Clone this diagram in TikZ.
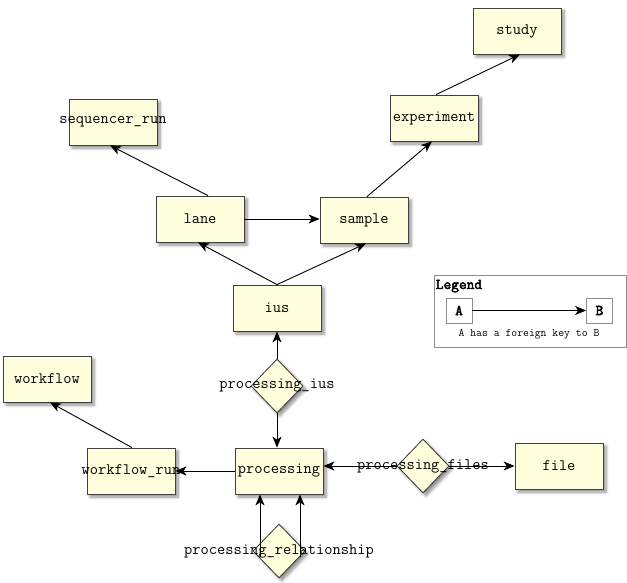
\documentclass[tikz,border=0pt]{standalone}
\usepackage{fontspec}
\setmonofont{Latin Modern Mono}[AutoFakeBold=3]
\usetikzlibrary{arrows.meta,shapes.geometric,shadows.blur}
\definecolor{boxfill}{RGB}{255,255,221}
\begin{document}
\begin{tikzpicture}[x=1pt,y=-1pt,
  font=\ttfamily\fontsize{16}{18}\selectfont,
  shad/.style={blur shadow={shadow xshift=3pt,shadow yshift=-3pt,shadow blur radius=3pt,shadow blur steps=6,shadow opacity=45}},
  ent/.style={draw=black!75,line width=0.8pt,fill=boxfill,minimum width=88pt,minimum height=46pt,inner sep=0pt,shad},
  rel/.style={diamond,draw=black!80,line width=0.8pt,fill=boxfill,minimum width=52pt,minimum height=54pt,inner sep=0pt,shad},
  lbl/.style={inner sep=0pt},
  fk/.style={-{Stealth[length=11pt,width=9pt,inset=3pt]},line width=0.9pt},
  legbox/.style={draw=black!45,line width=0.8pt,fill=white,minimum width=26pt,minimum height=25pt,inner sep=0pt,font=\ttfamily\bfseries\fontsize{15}{17}\selectfont}
]
\useasboundingbox (0,0) rectangle (627,583);
% entities
\node[ent] (study) at (517,31) {study};
\node[ent] (exp) at (434,118) {experiment};
\node[ent] (seq) at (113,122) {\makebox[0pt]{sequencer\_run}};
\node[ent] (lane) at (200,219) {lane};
\node[ent] (sample) at (364,220) {sample};
\node[ent] (ius) at (277,308) {ius};
\node[ent] (wf) at (47,379) {workflow};
\node[ent] (wr) at (131,471) {\makebox[0pt]{workflow\_run}};
\node[ent] (proc) at (279,471) {processing};
\node[ent] (file) at (559,466) {file};
% relationships
\node[rel] (pius) at (277,386) {};
\node[rel] (pfiles) at (423,466) {};
\node[rel] (prel) at (279,551) {};
% edges
\draw[fk] ([xshift=8pt]lane.north) -- ([xshift=-3pt]seq.south);
\draw[fk] (lane.east) -- (lane.east -| sample.west);
\draw[fk] ([xshift=3pt]sample.north) -- ([xshift=-2pt]exp.south);
\draw[fk] ([xshift=2pt]exp.north) -- ([xshift=3pt]study.south);
\draw[fk] (ius.north) -- ([xshift=-2pt]lane.south);
\draw[fk] (ius.north) -- ([xshift=2pt]sample.south);
\draw[fk] (pius.north) -- (pius.north |- ius.south);
\draw[fk] (pius.south) -- (pius.south |- proc.north);
\draw[fk] (proc.west) -- (proc.west -| wr.east);
\draw[fk] ([xshift=1pt]wr.north) -- ([xshift=3pt]wf.south);
\draw[fk] (pfiles.west) -- (pfiles.west -| proc.east);
\draw[fk] (pfiles.east) -- (pfiles.east -| file.west);
\draw[fk] ([xshift=-19pt,yshift=-6pt]prel.center) -- ([xshift=-19pt]proc.south);
\draw[fk] ([xshift=21pt,yshift=-6pt]prel.center) -- ([xshift=21pt]proc.south);
% relationship labels
\node[lbl] at (pius) {processing\_ius};
\node[lbl] at (pfiles) {processing\_files};
\node[lbl] at (prel) {processing\_relationship};
% legend
\node[draw=black!45,line width=0.8pt,minimum width=192pt,minimum height=72pt,inner sep=0pt] (leg) at (530,311) {};
\node[anchor=north west,inner sep=0pt,font=\ttfamily\bfseries\fontsize{15}{17}\selectfont] (legt) at ([xshift=2pt,yshift=-5pt]leg.north west) {Legend};
\node[legbox] (la) at (459,310.5) {A};
\node[legbox] (lb) at (599.5,310.5) {B};
\draw[fk] (la.east) -- (lb.west);
\node[lbl,font=\ttfamily\fontsize{11.4}{13}\selectfont] (lcap) at (529,334) {A has a foreign key to B};
\end{tikzpicture}
\end{document}
